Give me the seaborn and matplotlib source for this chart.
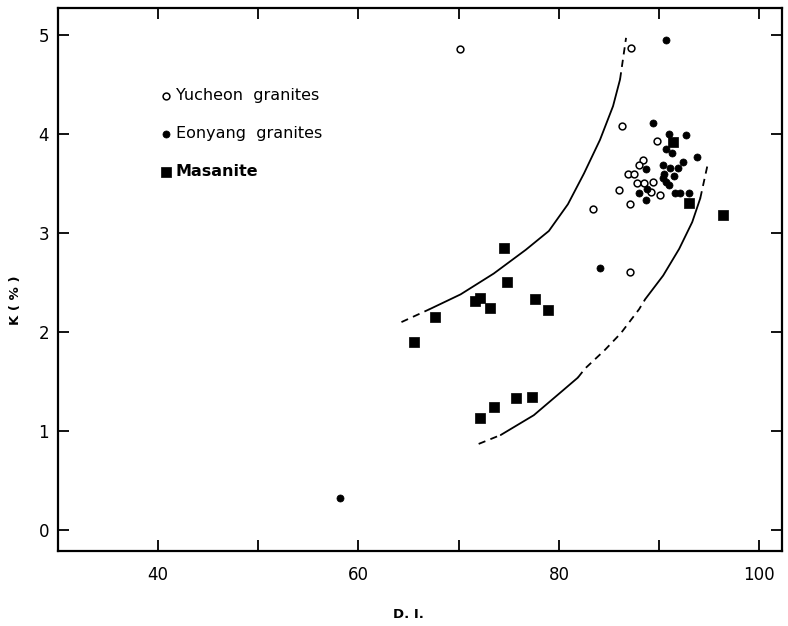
import pandas as pd
import seaborn as sns
import matplotlib.pyplot as plt

# Yucheon granites (open circles)
yucheon_di = [86.3, 89.8, 88.4, 88.0, 86.9, 87.5, 87.8, 88.5, 89.4, 86.0,
              89.2, 90.1, 87.1, 83.4, 87.1, 70.1, 87.2]
yucheon_k = [4.08, 3.93, 3.74, 3.69, 3.60, 3.60, 3.50, 3.50, 3.51, 3.43,
             3.41, 3.38, 3.29, 3.24, 2.61, 4.86, 4.87]

# Eonyang granites (filled circles)
eonyang_di = [89.4, 91.0, 92.7, 90.7, 91.3, 93.8, 92.4, 90.4, 88.7, 91.1,
              91.9, 90.5, 91.5, 90.4, 90.7, 91.0, 88.8, 88.0, 88.7, 91.6,
              92.1, 93.0, 84.1, 90.7, 58.2]
eonyang_k = [4.11, 4.00, 3.99, 3.85, 3.81, 3.77, 3.72, 3.69, 3.65, 3.66,
             3.66, 3.60, 3.58, 3.55, 3.51, 3.48, 3.44, 3.40, 3.33, 3.40,
             3.40, 3.40, 2.65, 4.95, 0.32]

# Masanite (squares)
masanite_di = [65.6, 67.6, 71.6, 72.1, 73.1, 74.5, 74.8, 77.6, 78.9,
               72.1, 73.5, 75.7, 77.3, 91.4, 93.0, 96.4]
masanite_k = [1.90, 2.15, 2.31, 2.34, 2.24, 2.85, 2.50, 2.33, 2.22,
              1.13, 1.24, 1.33, 1.34, 3.92, 3.30, 3.18]

# hand drawn boundary curves
upper_di = [64.3, 67.1, 70.2, 73.5, 76.7, 79.0, 80.9, 82.5, 84.1, 85.4, 86.1, 86.7]
upper_k = [2.10, 2.23, 2.38, 2.59, 2.83, 3.02, 3.29, 3.60, 3.94, 4.28, 4.55, 4.97]
lower_di = [72.0, 74.2, 77.5, 80.4, 81.9, 82.6, 84.6, 86.2, 88.0, 88.6,
            90.4, 92.0, 93.3, 94.1, 94.9]
lower_k = [0.87, 0.96, 1.16, 1.41, 1.54, 1.63, 1.82, 1.99, 2.23, 2.33,
           2.57, 2.84, 3.11, 3.35, 3.72]

# (first index, last index, dashed?)
upper_parts = [(0, 1, True), (1, 10, False), (10, 11, True)]
lower_parts = [(0, 1, True), (1, 4, False), (4, 9, True), (9, 13, False), (13, 14, True)]

x_ticks = [40, 50, 60, 70, 80, 90, 100]
x_labels = ['40', '', '60', '', '80', '', '100']
y_ticks = [0, 1, 2, 3, 4, 5]

sns.set_style('ticks')
plt.rcParams['font.family'] = ['DejaVu Sans']
plt.rcParams['text.color'] = 'black'
plt.rcParams['xtick.color'] = 'black'
plt.rcParams['ytick.color'] = 'black'

fig = plt.figure(figsize=(7.88, 6.26), dpi=100)
ax = fig.add_axes([0.073, 0.120, 0.920, 0.867])


def draw_curve(xs, ys, parts):
    for i0, i1, dashed in parts:
        seg = pd.DataFrame({'di': xs[i0:i1 + 1], 'k': ys[i0:i1 + 1]})
        sns.lineplot(x='di', y='k', data=seg, sort=False, estimator=None,
                     color='black', lw=1.3, ax=ax,
                     linestyle=(0, (4, 3)) if dashed else '-')


draw_curve(upper_di, upper_k, upper_parts)
draw_curve(lower_di, lower_k, lower_parts)

sns.scatterplot(x=yucheon_di, y=yucheon_k, marker='o', s=24, color='white',
                edgecolor='black', linewidth=1.1, label='Yucheon  granites', ax=ax, zorder=3)
sns.scatterplot(x=eonyang_di, y=eonyang_k, marker='o', s=26, color='black',
                edgecolor='black', linewidth=0.5, label='Eonyang  granites', ax=ax, zorder=3)
sns.scatterplot(x=masanite_di, y=masanite_k, marker='s', s=55, color='black',
                edgecolor='black', linewidth=0.5, label='Masanite', ax=ax, zorder=3)

leg = ax.legend(loc='upper left', bbox_to_anchor=(162 / 788, 1 - 88 / 626),
                bbox_transform=fig.transFigure, frameon=False, fontsize=11.5,
                handlelength=0.5, handletextpad=0.35, labelspacing=1.45,
                borderpad=0, borderaxespad=0, labelcolor='black')
leg.get_texts()[2].set_fontweight('bold')

ax.set_xlim(30, 102.3)
ax.set_ylim(-0.21, 5.27)
ax.set_xticks(x_ticks)
ax.set_xticklabels(x_labels)
ax.set_yticks(y_ticks)
ax.tick_params(direction='in', length=8, width=1.3, labelsize=12,
               top=True, right=True, colors='black')
ax.tick_params(axis='x', pad=11)
ax.tick_params(axis='y', pad=6)
for sp in ax.spines.values():
    sp.set_linewidth(1.6)
    sp.set_color('black')

ax.set_xlabel('')
ax.set_ylabel('')
fig.text(408 / 788, 1 - 614 / 626, 'D. I.', ha='center', va='center',
         fontsize=9.5, fontweight='bold', color='black')
fig.text(16 / 788, 1 - 300 / 626, 'K ( % )', ha='center', va='center',
         rotation=90, fontsize=9.5, fontweight='bold', color='black')

fig.savefig('out.png', dpi=100)
